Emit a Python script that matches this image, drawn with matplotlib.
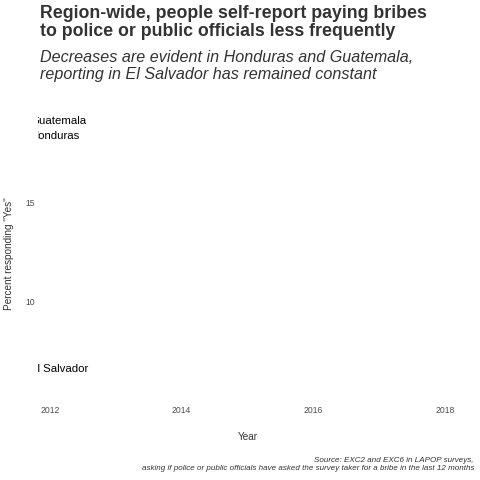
import numpy as np
import matplotlib
matplotlib.use("Agg")
import matplotlib.pyplot as plt

plt.rcParams['font.family'] = ['Liberation Sans', 'DejaVu Sans']

# data (first frame: only 2012 is shown)
countries = ["Guatemala", "Honduras", "El Salvador"]
years = [2012, 2012, 2012]
pct_yes = [19.15, 18.4, 6.55]
x_ticks = [2012, 2014, 2016, 2018]
y_ticks = [10, 15]

fig = plt.figure(figsize=(4.8, 4.8), dpi=100)
ax = fig.add_axes([38/480, 82/480, (457-38)/480, (370-82)/480])

for name, yr, v in zip(countries, years, pct_yes):
    ax.plot([yr], [v], color='black', lw=1)
    ax.annotate(name, (yr, v), xytext=(-14, 0), textcoords='offset points',
                ha='left', va='center', fontsize=8.2, color='black', clip_on=True)

ax.set_xlim(2011.82, 2018.18)
ax.set_ylim(5.1, 19.7)
ax.set_xticks(x_ticks)
ax.set_yticks(y_ticks)
ax.tick_params(axis='x', length=0, labelsize=6.2, labelcolor='#4d4d4d', pad=6)
ax.tick_params(axis='y', length=0, labelsize=6.2, labelcolor='#4d4d4d', pad=2)
for s in ax.spines.values():
    s.set_visible(False)
ax.set_xlabel('Year', fontsize=7.2, color='#333333', labelpad=12)
ax.set_ylabel('Percent responding "Yes"', fontsize=7.2, color='#333333', labelpad=8)

fig.text(40/480, 1 - 5/480, "Region-wide, people self-report paying bribes\nto police or public officials less frequently",
         ha='left', va='top', fontsize=12.8, fontweight='bold', color='#333333', linespacing=1.08)
fig.text(40/480, 1 - 50/480, "Decreases are evident in Honduras and Guatemala,\nreporting in El Salvador has remained constant",
         ha='left', va='top', fontsize=11.6, style='italic', color='#333333', linespacing=1.15)
fig.text(474/480, 1 - 457/480, "Source: EXC2 and EXC6 in LAPOP surveys,\nasking if police or public officials have asked the survey taker for a bribe in the last 12 months",
         ha='right', va='top', fontsize=5.8, style='italic', color='#333333', linespacing=1.15)

fig.savefig('out.png', dpi=100, facecolor='white')
